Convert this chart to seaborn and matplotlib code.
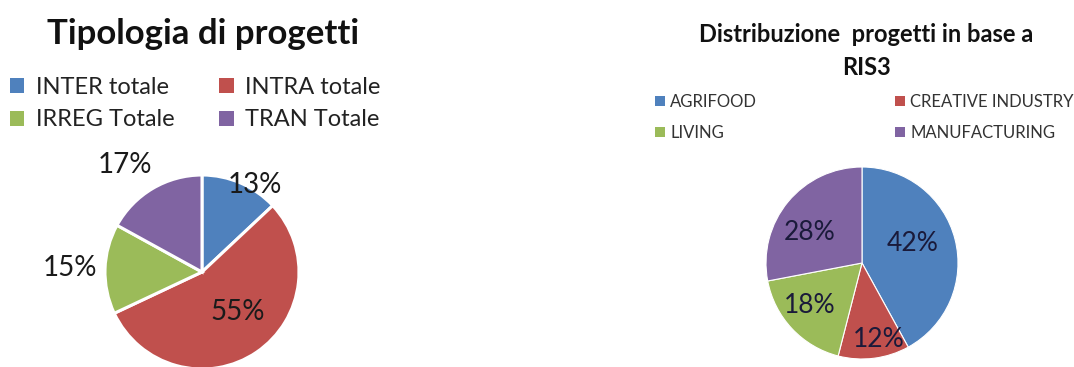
import matplotlib
matplotlib.use("Agg")
import matplotlib.pyplot as plt
from matplotlib.patches import Patch
import numpy as np
import seaborn as sns

# Project types
tipologia_labels = ["INTER totale", "INTRA totale", "IRREG Totale", "TRAN Totale"]
tipologia_values = [13, 55, 15, 17]

# RIS3 areas
ris3_labels = ["AGRIFOOD", "CREATIVE INDUSTRY", "LIVING", "MANUFACTURING"]
ris3_values = [42, 12, 18, 28]

sns.set_theme(style="white")
plt.rcParams["font.family"] = ["Lato", "DejaVu Sans"]
palette = ["#4F81BD", "#C0504D", "#9BBB59", "#8064A2"]

W, H = 1074, 367
fig = plt.figure(figsize=(W / 100, H / 100), dpi=100)


def px_axes(cx, cy, r):
    return fig.add_axes([(cx - r) / W, (H - cy - r) / H, 2 * r / W, 2 * r / H])


def draw_pie(ax, values, edge_lw, label_place, fontsize, color):
    wedges, _, autotexts = ax.pie(
        values, colors=palette, startangle=90, counterclock=False,
        autopct="%.0f%%", radius=1.0,
        wedgeprops=dict(edgecolor="white", linewidth=edge_lw),
        textprops=dict(fontsize=fontsize, color=color),
    )
    for w, t, (d, nudge) in zip(wedges, autotexts, label_place):
        ang = np.deg2rad((w.theta1 + w.theta2) / 2 + nudge)
        t.set_position((d * np.cos(ang), d * np.sin(ang)))
        t.set_clip_on(False)
    ax.set_xlim(-1, 1)
    ax.set_ylim(-1, 1)
    ax.set_aspect("equal")
    ax.axis("off")
    for w in wedges:
        w.set_clip_on(False)
    return wedges


def row_order(items):
    # legend fills columns first; reorder so entries read across rows
    return [items[0], items[2], items[1], items[3]]


ax1 = px_axes(202, 272, 97)
draw_pie(ax1, tipologia_values, 2.2,
         [(1.05, -8), (0.55, 8), (1.36, 0), (1.36, 5)], 20, "#1a1a1a")

ax2 = px_axes(862, 263, 96)
draw_pie(ax2, ris3_values, 0.8,
         [(0.57, 7), (0.82, 5), (0.70, -4), (0.63, 9)], 19, "#1a1a3a")

fig.text(203 / W, 1 - 34 / H, "Tipologia di progetti", ha="center", va="center",
         fontsize=25, fontweight="bold", color="#111111")
fig.text(866 / W, 1 - 51 / H, "Distribuzione  progetti in base a\nRIS3", ha="center",
         va="center", fontsize=17, fontweight="bold", color="#111111",
         linespacing=1.55)

h1 = [Patch(facecolor=c, edgecolor="none") for c in palette]
fig.legend(row_order(h1), row_order(tipologia_labels), loc="upper left",
           bbox_to_anchor=(10 / W, 1 - 77 / H),
           ncol=2, frameon=False, fontsize=17, handlelength=0.6, handleheight=0.6,
           handletextpad=0.5, columnspacing=1.9, labelspacing=0.48,
           borderpad=0, borderaxespad=0, labelcolor="#222222")

fig.legend(row_order(h1), row_order(ris3_labels), loc="upper left",
           bbox_to_anchor=(655 / W, 1 - 94 / H),
           ncol=2, frameon=False, fontsize=12, handlelength=0.6, handleheight=0.6,
           handletextpad=0.3, columnspacing=8.3, labelspacing=0.9,
           borderpad=0, borderaxespad=0, labelcolor="#333333")

fig.savefig("out.png", dpi=100, facecolor="white")
